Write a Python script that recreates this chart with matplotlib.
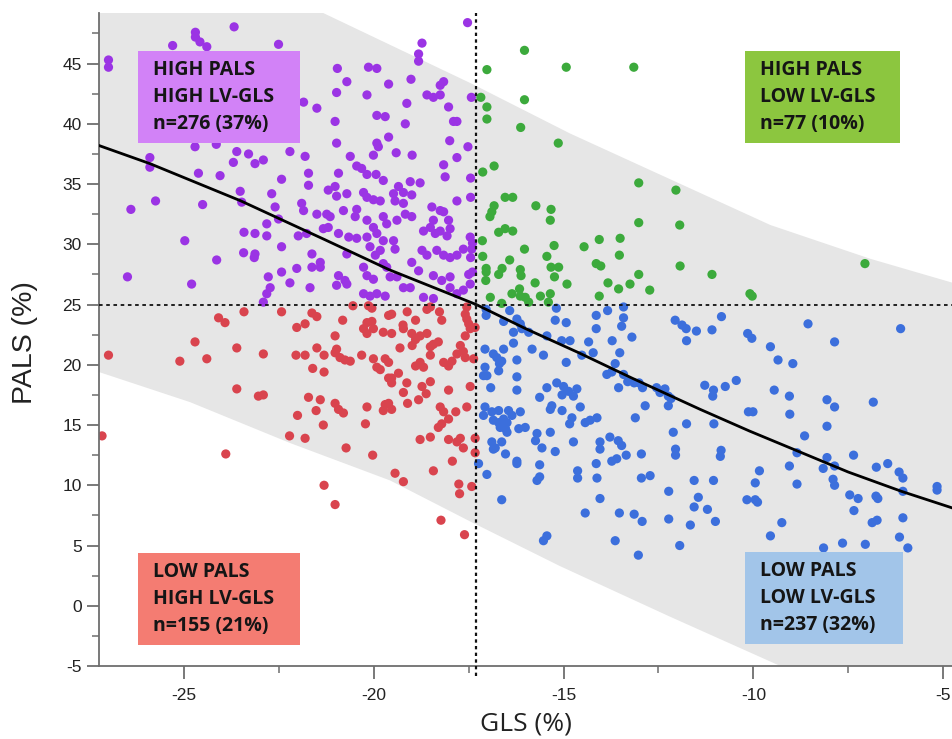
import numpy as np
import matplotlib.pyplot as plt
from matplotlib.patches import Rectangle
from matplotlib.ticker import MultipleLocator

plt.rcParams["axes.unicode_minus"] = False

# GLS (%) / PALS (%) values, one list per quadrant
purple = [
    (-17.53, 48.4), (-23.68, 48.05), (-24.70, 47.6), (-24.70, 47.2), (-24.58, 46.8), (-24.40, 46.4),
    (-25.30, 46.5), (-22.51, 46.6), (-18.73, 46.7), (-18.82, 45.8), (-18.82, 45.2), (-26.99, 45.3),
    (-26.99, 44.7), (-20.96, 44.6), (-20.14, 44.7), (-19.92, 44.6), (-20.71, 43.5), (-20.98, 42.6),
    (-20.18, 42.4), (-19.61, 43.3), (-19.02, 43.7), (-18.25, 43.2), (-18.16, 43.5), (-18.60, 42.4),
    (-18.43, 42.2), (-18.25, 42.4), (-19.13, 41.7), (-18.03, 41.4), (-17.43, 42.2), (-21.50, 41.3),
    (-21.85, 41.8), (-21.02, 40.2), (-19.92, 40.7), (-19.70, 40.6), (-19.17, 40.0), (-17.90, 40.2),
    (-17.81, 40.2), (-20.98, 38.4), (-19.92, 38.4), (-19.88, 38.1), (-19.61, 38.9), (-18.00, 38.6),
    (-17.52, 38.1), (-24.71, 38.1), (-24.15, 38.3), (-23.61, 37.7), (-23.30, 37.5), (-22.21, 37.7),
    (-21.81, 37.3), (-20.62, 37.3), (-20.01, 37.4), (-19.41, 37.6), (-18.99, 37.4), (-17.81, 37.2),
    (-25.90, 37.2), (-25.90, 36.4), (-23.70, 36.8), (-23.13, 36.7), (-22.91, 37.0), (-18.16, 36.6),
    (-20.45, 36.5), (-20.32, 36.3), (-24.62, 35.9), (-24.05, 35.7), (-22.43, 35.4), (-21.72, 35.9),
    (-20.93, 35.9), (-20.18, 35.8), (-19.94, 35.8), (-19.75, 35.3), (-19.35, 34.8), (-19.22, 34.3),
    (-19.04, 35.2), (-18.78, 35.1), (-18.12, 35.6), (-22.69, 34.2), (-21.72, 34.9), (-21.20, 34.5),
    (-21.02, 34.8), (-20.98, 34.0), (-20.71, 34.2), (-20.27, 34.3), (-20.18, 33.9), (-20.01, 33.7),
    (-19.83, 33.6), (-19.48, 34.2), (-19.44, 33.6), (-19.00, 34.1), (-18.47, 33.1), (-18.25, 32.8),
    (-17.81, 33.6), (-23.52, 34.4), (-23.48, 33.5), (-25.75, 33.6), (-26.40, 32.9), (-24.51, 33.3),
    (-21.90, 33.4), (-21.85, 32.8), (-21.50, 32.5), (-21.24, 32.5), (-21.15, 32.3), (-20.80, 32.8),
    (-20.45, 32.9), (-20.49, 32.3), (-20.18, 32.0), (-20.01, 31.4), (-19.75, 32.3), (-19.66, 31.7),
    (-19.39, 32.0), (-19.22, 33.4), (-19.17, 32.5), (-19.00, 32.3), (-18.43, 32.0), (-18.16, 32.7),
    (-18.03, 32.0), (-18.51, 31.4), (-18.25, 31.1), (-17.99, 31.3), (-22.60, 33.1), (-22.51, 32.1),
    (-22.82, 31.7), (-21.99, 30.7), (-21.77, 30.9), (-21.33, 31.3), (-21.20, 31.4), (-20.93, 30.9),
    (-20.66, 30.6), (-20.45, 30.5), (-20.18, 30.6), (-19.92, 30.9), (-19.75, 30.3), (-19.48, 30.3),
    (-18.69, 31.1), (-18.38, 30.9), (-18.07, 30.7), (-17.46, 30.6), (-23.42, 31.0), (-23.13, 30.9),
    (-22.82, 30.7), (-24.98, 30.3), (-23.43, 29.3), (-23.15, 28.9), (-23.13, 29.2), (-22.43, 29.8),
    (-21.63, 29.2), (-21.41, 28.5), (-20.71, 29.2), (-20.10, 29.8), (-19.96, 29.1), (-19.83, 29.5),
    (-19.75, 28.4), (-19.66, 28.1), (-19.44, 29.6), (-19.00, 28.5), (-18.73, 29.5), (-18.60, 29.1),
    (-18.34, 29.5), (-18.16, 29.1), (-17.99, 28.9), (-17.81, 29.1), (-17.64, 29.6), (-17.42, 29.6),
    (-24.14, 28.7), (-22.03, 28.0), (-22.43, 27.7), (-21.63, 28.1), (-21.41, 28.1), (-20.93, 27.4),
    (-20.76, 27.0), (-20.27, 28.1), (-20.18, 27.4), (-20.01, 27.1), (-19.57, 27.3), (-19.39, 27.3),
    (-18.82, 27.8), (-18.43, 27.4), (-18.21, 27.0), (-17.99, 27.3), (-17.50, 27.5), (-26.49, 27.3),
    (-24.80, 26.7), (-22.78, 27.3), (-22.73, 26.4), (-22.21, 26.8), (-21.68, 26.4), (-20.98, 26.6),
    (-20.71, 26.7), (-20.27, 25.9), (-20.10, 25.7), (-19.92, 25.9), (-19.70, 25.7), (-19.22, 26.4),
    (-19.04, 26.4), (-17.99, 26.4), (-17.81, 25.9), (-17.64, 26.2), (-17.46, 26.7), (-22.82, 25.9),
    (-22.91, 25.2), (-18.69, 25.6), (-18.43, 25.5), (-17.45, 35.5), (-17.45, 33.9), (-17.40, 30.1),
    (-17.45, 28.9), (-17.40, 27.7),
]

green = [
    (-16.03, 46.1), (-17.02, 44.5), (-14.93, 44.7), (-13.15, 44.7), (-17.18, 42.2), (-17.02, 41.4),
    (-17.02, 40.4), (-16.03, 42.0), (-16.13, 39.7), (-15.14, 38.4), (-17.13, 36.0), (-16.83, 36.5),
    (-13.02, 35.1), (-12.04, 34.5), (-16.54, 33.9), (-16.34, 33.9), (-16.83, 33.2), (-16.89, 32.7),
    (-16.94, 32.3), (-15.73, 33.2), (-15.33, 32.9), (-15.35, 32.0), (-13.02, 31.8), (-11.94, 31.6),
    (-16.71, 31.0), (-16.54, 31.3), (-16.34, 31.1), (-17.14, 30.3), (-16.03, 29.6), (-15.25, 29.9),
    (-14.46, 29.8), (-14.06, 30.4), (-13.51, 30.5), (-17.13, 29.0), (-16.42, 28.7), (-15.44, 29.0),
    (-13.53, 29.1), (-14.14, 28.4), (-14.02, 28.2), (-15.33, 28.1), (-15.13, 28.1), (-17.04, 28.0),
    (-17.04, 27.7), (-16.71, 27.5), (-16.62, 28.0), (-16.14, 27.9), (-16.12, 27.4), (-15.24, 27.3),
    (-11.93, 28.2), (-11.09, 27.5), (-7.06, 28.4), (-13.02, 27.5), (-17.05, 27.0), (-15.75, 26.8),
    (-14.91, 26.7), (-13.83, 26.8), (-13.25, 26.7), (-13.55, 26.3), (-12.73, 26.2), (-16.36, 25.9),
    (-16.16, 26.3), (-16.14, 25.7), (-16.01, 25.6), (-15.92, 25.2), (-15.61, 25.7), (-15.35, 25.9),
    (-15.40, 25.2), (-16.93, 25.6), (-16.63, 25.1), (-14.06, 25.7), (-10.09, 25.9), (-10.03, 25.7),
]

red = [
    (-23.42, 24.4), (-24.09, 23.9), (-23.92, 23.5), (-22.43, 24.4), (-21.63, 24.3), (-21.50, 24.0),
    (-22.03, 23.1), (-21.81, 23.4), (-20.82, 23.7), (-21.02, 22.4), (-20.55, 24.9), (-20.05, 24.7),
    (-20.14, 24.9), (-20.18, 23.5), (-20.05, 23.6), (-20.27, 23.0), (-20.18, 22.6), (-20.01, 23.0),
    (-19.61, 24.1), (-19.53, 24.2), (-19.75, 22.7), (-19.53, 22.6), (-19.23, 23.3), (-19.22, 23.0),
    (-19.12, 24.4), (-18.90, 23.7), (-18.60, 24.6), (-18.51, 24.8), (-18.27, 24.4), (-18.21, 23.7),
    (-17.55, 24.8), (-17.59, 24.2), (-17.55, 23.8), (-17.50, 23.4), (-17.33, 23.1), (-17.46, 23.0),
    (-19.00, 22.6), (-18.90, 22.1), (-18.99, 21.6), (-18.78, 22.4), (-18.60, 22.6), (-18.43, 21.7),
    (-18.30, 21.9), (-18.51, 21.5), (-19.31, 21.4), (-17.59, 22.4), (-24.71, 21.9), (-23.61, 21.4),
    (-26.99, 20.8), (-25.11, 20.3), (-24.40, 20.5), (-22.91, 20.9), (-22.05, 20.8), (-21.81, 20.8),
    (-21.50, 21.4), (-21.31, 20.8), (-20.98, 21.3), (-21.02, 21.0), (-20.89, 20.6), (-20.76, 20.4),
    (-20.62, 20.3), (-20.32, 20.8), (-20.01, 20.5), (-19.70, 20.5), (-19.61, 20.2), (-19.92, 19.8),
    (-19.83, 19.6), (-19.35, 19.3), (-19.53, 18.9), (-19.61, 18.9), (-19.53, 18.5), (-19.13, 18.5),
    (-18.90, 19.9), (-18.78, 20.2), (-18.69, 19.8), (-18.51, 20.8), (-18.16, 20.2), (-18.03, 19.9),
    (-17.94, 20.3), (-17.72, 21.6), (-17.64, 21.1), (-17.59, 20.6), (-17.37, 20.5), (-17.81, 20.9),
    (-21.61, 19.7), (-21.31, 19.4), (-23.61, 18.0), (-18.73, 18.2), (-18.51, 18.6), (-17.46, 18.2),
    (-23.04, 17.4), (-22.91, 17.5), (-21.72, 17.3), (-21.41, 17.1), (-21.02, 16.8), (-20.93, 16.3),
    (-20.80, 16.0), (-21.52, 16.2), (-20.18, 16.5), (-19.70, 16.7), (-19.61, 16.8), (-19.75, 16.2),
    (-19.53, 16.3), (-19.22, 17.7), (-19.11, 16.8), (-18.82, 17.1), (-18.62, 17.6), (-18.03, 17.9),
    (-18.25, 16.5), (-18.16, 16.1), (-18.03, 15.5), (-18.30, 14.8), (-18.21, 15.1), (-17.84, 16.1),
    (-17.55, 16.5), (-22.01, 15.8), (-21.33, 15.0), (-20.22, 15.1), (-27.16, 14.1), (-22.22, 14.1),
    (-21.81, 13.9), (-18.78, 13.8), (-18.51, 14.0), (-18.03, 13.8), (-17.81, 13.6), (-17.72, 13.9),
    (-17.33, 13.9), (-17.64, 13.1), (-17.33, 12.7), (-23.90, 12.6), (-20.73, 13.1), (-20.03, 12.5),
    (-17.93, 12.0), (-18.43, 11.2), (-19.44, 11.0), (-19.22, 10.3), (-17.76, 10.1), (-17.42, 9.9),
    (-17.74, 9.3), (-21.31, 10.0), (-21.02, 8.4), (-18.23, 7.1), (-17.61, 5.9),
]

blue = [
    (-17.04, 24.6), (-17.04, 24.1), (-16.42, 24.5), (-16.58, 23.6), (-16.23, 23.8), (-16.14, 23.4),
    (-16.10, 23.0), (-16.32, 22.7), (-15.92, 22.7), (-15.19, 24.7), (-15.22, 23.7), (-14.93, 23.5),
    (-15.44, 22.4), (-15.05, 22.0), (-14.83, 22.0), (-14.14, 24.1), (-14.14, 23.0), (-13.84, 24.5),
    (-13.42, 24.8), (-13.42, 23.9), (-13.47, 23.2), (-13.20, 22.3), (-13.72, 22.0), (-14.34, 21.9),
    (-14.22, 21.0), (-13.52, 21.0), (-14.52, 20.8), (-12.06, 23.7), (-11.88, 23.3), (-11.77, 23.0),
    (-11.50, 22.8), (-11.09, 22.9), (-11.76, 22.0), (-17.07, 21.3), (-16.85, 20.9), (-16.76, 20.6),
    (-16.58, 21.3), (-16.63, 20.3), (-16.32, 21.8), (-15.83, 21.3), (-15.53, 20.8), (-16.23, 20.4),
    (-17.07, 19.8), (-17.11, 19.1), (-17.02, 19.1), (-16.71, 19.5), (-16.69, 20.1), (-14.93, 20.2),
    (-13.64, 20.1), (-13.86, 19.2), (-13.73, 19.4), (-13.42, 19.2), (-13.31, 18.6), (-13.14, 18.5),
    (-13.01, 18.5), (-12.92, 18.1), (-13.55, 18.1), (-12.55, 18.1), (-12.46, 17.7), (-12.33, 18.0),
    (-12.24, 17.4), (-12.17, 17.2), (-16.23, 19.0), (-16.92, 18.1), (-16.23, 17.9), (-15.44, 18.1),
    (-15.18, 18.5), (-15.00, 18.2), (-14.87, 17.8), (-14.65, 18.0), (-15.04, 17.5), (-14.74, 17.4),
    (-15.63, 17.3), (-11.28, 18.3), (-15.31, 16.6), (-15.35, 16.3), (-15.04, 16.2), (-14.56, 16.5),
    (-12.85, 16.6), (-12.24, 16.6), (-17.07, 16.5), (-17.11, 15.8), (-16.89, 16.1), (-16.71, 16.2),
    (-16.85, 15.4), (-16.71, 15.2), (-16.58, 15.5), (-16.49, 15.2), (-16.45, 16.2), (-16.36, 15.8),
    (-16.14, 16.1), (-16.67, 14.8), (-16.49, 14.4), (-16.53, 14.7), (-16.18, 14.7), (-16.01, 14.8),
    (-13.11, 15.6), (-14.78, 15.6), (-14.84, 15.1), (-14.43, 15.2), (-14.30, 15.4), (-14.12, 15.6),
    (-11.04, 15.1), (-11.76, 15.1), (-12.11, 14.4), (-15.70, 14.3), (-15.74, 13.7), (-15.35, 14.4),
    (-14.74, 13.6), (-16.89, 13.6), (-16.80, 13.1), (-16.63, 13.6), (-16.85, 13.0), (-16.53, 12.6),
    (-15.57, 13.1), (-15.22, 12.8), (-14.04, 13.6), (-14.04, 13.0), (-13.78, 14.0), (-13.56, 13.7),
    (-13.47, 13.3), (-13.35, 12.5), (-12.95, 12.6), (-12.05, 13.0), (-12.05, 12.5), (-13.73, 12.0),
    (-13.60, 12.2), (-14.14, 11.8), (-16.23, 12.0), (-16.23, 11.8), (-17.24, 11.8), (-17.02, 10.9),
    (-15.63, 11.7), (-14.63, 11.2), (-14.63, 10.6), (-14.12, 10.6), (-15.70, 10.4), (-15.63, 10.7),
    (-12.95, 10.6), (-12.72, 10.8), (-11.56, 10.4), (-16.63, 8.8), (-14.04, 8.9), (-12.23, 9.5),
    (-11.45, 9.0), (-11.56, 8.2), (-11.21, 8.0), (-14.43, 7.7), (-13.53, 7.7), (-13.14, 7.6),
    (-12.93, 7.0), (-12.23, 7.2), (-11.66, 6.7), (-15.53, 5.4), (-15.44, 5.8), (-13.64, 5.4),
    (-11.94, 5.0), (-13.03, 4.2),
    (-10.84, 24.0), (-8.56, 23.4), (-6.12, 23.0), (-10.15, 22.6), (-10.04, 22.2), (-9.55, 21.5),
    (-7.86, 21.9), (-9.35, 20.4), (-8.96, 20.1), (-10.45, 18.7), (-10.74, 18.2), (-11.05, 17.9),
    (-11.07, 17.4), (-9.45, 17.9), (-9.05, 17.4), (-8.06, 17.1), (-7.86, 16.5), (-6.84, 16.9),
    (-10.13, 16.1), (-10.01, 16.1), (-9.04, 15.9), (-8.06, 14.9), (-8.65, 14.1), (-10.85, 12.9),
    (-10.87, 12.4), (-8.85, 12.7), (-8.06, 12.3), (-8.16, 11.4), (-7.86, 11.6), (-7.36, 12.5),
    (-6.76, 11.5), (-6.46, 11.8), (-6.16, 11.1), (-6.06, 10.6), (-6.06, 9.5), (-5.16, 9.9),
    (-5.16, 9.6), (-9.84, 11.2), (-9.05, 11.6), (-11.05, 10.4), (-9.95, 10.2), (-8.85, 10.1),
    (-7.90, 10.5), (-7.86, 10.0), (-10.17, 8.8), (-9.95, 8.8), (-9.89, 8.6), (-7.46, 9.2),
    (-7.24, 8.9), (-7.35, 7.9), (-6.77, 9.1), (-6.72, 8.9), (-11.00, 7.0), (-9.25, 6.9),
    (-6.87, 6.9), (-6.74, 7.1), (-6.06, 7.3), (-9.55, 5.8), (-6.15, 5.7), (-8.15, 4.8),
    (-7.65, 5.2), (-7.05, 5.1), (-5.93, 4.8),
]

# fitted curve and prediction band
fit_gls = [-27.24, -25.9, -23.5, -21.3, -19.6, -17.3, -16.0, -14.6, -13.2, -11.4, -10.1, -8.8, -7.5, -6.1, -4.74]
fit_pals = [38.2, 36.7, 33.6, 30.4, 27.9, 25.0, 23.0, 21.0, 18.9, 16.3, 14.5, 12.8, 11.1, 9.5, 8.1]
band_hi_gls = [-27.24, -21.4, -17.4, -14.83, -12.19, -9.55, -6.92, -4.74]
band_hi_pals = [57.0, 49.3, 43.3, 39.2, 35.4, 31.6, 28.8, 26.8]
band_lo_gls = [-27.24, -24.84, -22.2, -19.57, -17.4, -15.1, -12.2, -9.29, -4.74]
band_lo_pals = [19.4, 16.9, 13.5, 10.4, 6.9, 3.3, -0.9, -5.0, -10.5]

gls_cut = -17.3
pals_cut = 25

quad_labels = [
    "HIGH PALS\nHIGH LV-GLS\nn=276 (37%)",
    "HIGH PALS\nLOW LV-GLS\nn=77 (10%)",
    "LOW PALS\nHIGH LV-GLS\nn=155 (21%)",
    "LOW PALS\nLOW LV-GLS\nn=237 (32%)",
]

fig = plt.figure(figsize=(9.53, 7.39), dpi=100)
ax = fig.add_axes([99 / 953, 1 - 666 / 739, 854 / 953, 653 / 739])

ax.fill(np.r_[band_hi_gls, band_lo_gls[::-1]], np.r_[band_hi_pals, band_lo_pals[::-1]],
        color="#e6e6e6", lw=0, zorder=0)

for pts, col in [(purple, "#9b34e4"), (green, "#3caa3c"), (red, "#d9444e"), (blue, "#3c6fdc")]:
    pts = np.array(pts)
    ax.scatter(pts[:, 0], pts[:, 1], s=44, color=col, edgecolors="none", zorder=2)

ax.plot(fit_gls, fit_pals, color="black", lw=2.0, zorder=3)
ax.axvline(gls_cut, ymin=-0.015, color="#111111", lw=1.6, ls=(0, (1.5, 1.5)), zorder=4, clip_on=False)
ax.axhline(pals_cut, color="#111111", lw=1.3, ls=(0, (2, 2)), zorder=4)

ax.set_xlim(-27.24, -4.74)
ax.set_ylim(-5, 49.2)
ax.xaxis.set_major_locator(MultipleLocator(5))
ax.xaxis.set_minor_locator(MultipleLocator(2.5))
ax.yaxis.set_major_locator(MultipleLocator(5))
ax.yaxis.set_minor_locator(MultipleLocator(2.5))
for s in ["top", "right"]:
    ax.spines[s].set_visible(False)
for s in ["left", "bottom"]:
    ax.spines[s].set_color("#6e6e6e")
    ax.spines[s].set_linewidth(1.3)
ax.tick_params(which="major", length=9, width=1.3, color="#6e6e6e", labelsize=12.5,
               labelcolor="#222222")
ax.tick_params(which="minor", length=5, width=1.1, color="#6e6e6e")
ax.tick_params(axis="x", pad=7)
for lab in ax.get_xticklabels() + ax.get_yticklabels():
    lab.set_fontfamily("Liberation Sans")

# quadrant boxes (axes fractions)
boxes = [(0.0457, 0.801, 0.1897, 0.141, "#d282f7"),
         (0.7564, 0.801, 0.1816, 0.141, "#8cc63f"),
         (0.0457, 0.0322, 0.1897, 0.141, "#f47c72"),
         (0.7564, 0.0337, 0.1850, 0.141, "#a2c5e9")]
for (x0, y0, w, h, fc), txt in zip(boxes, quad_labels):
    ax.add_patch(Rectangle((x0, y0), w, h, transform=ax.transAxes, facecolor=fc,
                           edgecolor="none", zorder=5))
    ax.text(x0 + 0.018, y0 + h / 2, txt, transform=ax.transAxes, ha="left", va="center",
            fontsize=14, fontweight="bold", family="Open Sans", color="#151515",
            linespacing=1.45, zorder=6)

fig.text(526 / 953, 1 - 724 / 739, "GLS (%)", ha="center", va="center", fontsize=19,
         family="Open Sans", color="#222222")
fig.text(25 / 953, 1 - 343 / 739, "PALS (%)", ha="center", va="center", rotation=90,
         fontsize=20.5, family="Liberation Sans", color="#222222")

fig.savefig("out.png", dpi=100)
